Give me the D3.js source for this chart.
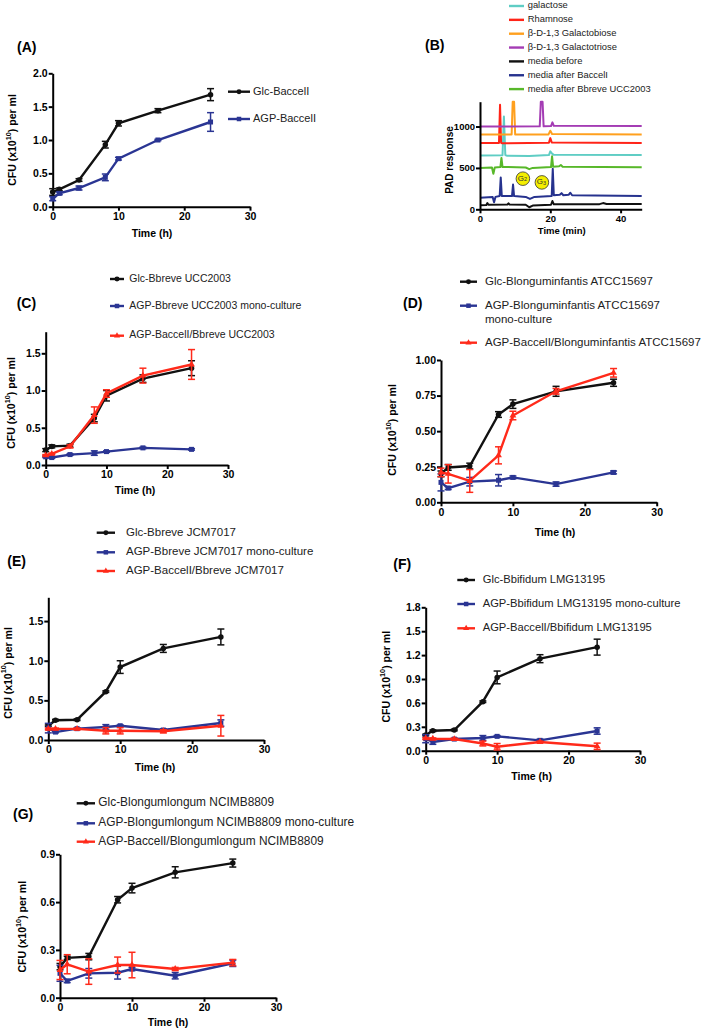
<!DOCTYPE html>
<html><head><meta charset="utf-8">
<script src="https://cdn.jsdelivr.net/npm/d3@7"></script>
<style>body{margin:0;background:#fff}svg{display:block}text{font-family:"Liberation Sans",Arial,sans-serif}</style>
</head><body>
<svg id="c" width="709" height="1032"></svg>
<script>
// ---------- data ----------
const timeH = [0, 1, 4, 8, 10, 16, 24];
const xTicksH = [0, 10, 20, 30];

// (A)
const aGlc = [0.22, 0.26, 0.40, 0.93, 1.25, 1.44, 1.68];
const aGlcErr = [0.05, 0.02, 0.02, 0.05, 0.04, 0.03, 0.09];
const aAgp = [0.12, 0.20, 0.28, 0.44, 0.72, 1.00, 1.27];
const aAgpErr = [0.03, 0.02, 0.03, 0.05, 0.02, 0.01, 0.14];
const aLegend = ["Glc-BaccelI", "AGP-BaccelI"];
const aYTicks = [0, 0.5, 1.0, 1.5, 2.0];

// (C)
const cGlc = [0.20, 0.25, 0.26, 0.63, 0.93, 1.16, 1.30];
const cGlcErr = [0.02, 0.02, 0.02, 0.05, 0.07, 0.05, 0.10];
const cMono = [0.11, 0.10, 0.14, 0.16, 0.18, 0.23, 0.21];
const cMonoErr = [0.01, 0.01, 0.01, 0.03, 0.01, 0.01, 0.01];
const cCo = [0.13, 0.15, 0.25, 0.67, 0.96, 1.20, 1.35];
const cCoErr = [0.01, 0.01, 0.02, 0.11, 0.05, 0.10, 0.20];
const cLegend = ["Glc-Bbreve UCC2003", "AGP-Bbreve UCC2003 mono-culture", "AGP-BaccelI/Bbreve UCC2003"];
const cYTicks = [0, 0.5, 1.0, 1.5];

// (D)
const dGlc = [0.20, 0.245, 0.255, 0.617, 0.69, 0.78, 0.84];
const dGlcErr = [0.02, 0.02, 0.02, 0.02, 0.03, 0.035, 0.025];
const dMono = [0.14, 0.10, 0.145, 0.155, 0.175, 0.128, 0.21];
const dMonoErr = [0.06, 0.01, 0.03, 0.04, 0.01, 0.015, 0.01];
const dCo = [0.21, 0.20, 0.15, 0.33, 0.61, 0.78, 0.91];
const dCoErr = [0.03, 0.065, 0.08, 0.06, 0.03, 0.02, 0.03];
const dLegend = ["Glc-Blonguminfantis ATCC15697", "AGP-Blonguminfantis ATCC15697|mono-culture", "AGP-BaccelI/Blonguminfantis ATCC15697"];
const dYTicks = [0, 0.25, 0.5, 0.75, 1.0];

// (E)
const eGlc = [0.18, 0.25, 0.256, 0.61, 0.92, 1.155, 1.30];
const eGlcErr = [0.01, 0.01, 0.01, 0.01, 0.08, 0.05, 0.10];
const eMono = [0.15, 0.10, 0.143, 0.164, 0.18, 0.126, 0.214];
const eMonoErr = [0.06, 0.01, 0.01, 0.03, 0.01, 0.015, 0.04];
const eCo = [0.14, 0.14, 0.14, 0.117, 0.117, 0.11, 0.18];
const eCoErr = [0.01, 0.01, 0.01, 0.04, 0.04, 0.02, 0.13];
const eLegend = ["Glc-Bbreve JCM7017", "AGP-Bbreve JCM7017 mono-culture", "AGP-BaccelI/Bbreve JCM7017"];
const eYTicks = [0, 0.5, 1.0, 1.5];

// (F)
const fGlc = [0.197, 0.25, 0.26, 0.615, 0.92, 1.155, 1.30];
const fGlcErr = [0.01, 0.01, 0.01, 0.01, 0.08, 0.05, 0.10];
const fMono = [0.15, 0.11, 0.146, 0.16, 0.18, 0.13, 0.247];
const fMonoErr = [0.05, 0.03, 0.01, 0.03, 0.01, 0.015, 0.04];
const fCo = [0.155, 0.15, 0.146, 0.09, 0.05, 0.11, 0.055];
const fCoErr = [0.01, 0.01, 0.01, 0.03, 0.04, 0.01, 0.04];
const fLegend = ["Glc-Bbifidum LMG13195", "AGP-Bbifidum LMG13195 mono-culture", "AGP-BaccelI/Bbifidum LMG13195"];
const fYTicks = [0, 0.3, 0.6, 0.9, 1.2, 1.5, 1.8];

// (G)
const gGlc = [0.195, 0.25, 0.258, 0.615, 0.688, 0.787, 0.845];
const gGlcErr = [0.02, 0.01, 0.02, 0.02, 0.03, 0.035, 0.025];
const gMono = [0.153, 0.105, 0.153, 0.157, 0.18, 0.138, 0.216];
const gMonoErr = [0.05, 0.01, 0.03, 0.04, 0.01, 0.02, 0.02];
const gCo = [0.174, 0.21, 0.164, 0.205, 0.205, 0.18, 0.22];
const gCoErr = [0.06, 0.06, 0.08, 0.05, 0.08, 0.01, 0.02];
const gLegend = ["Glc-Blongumlongum NCIMB8809", "AGP-Blongumlongum NCIMB8809 mono-culture", "AGP-BaccelI/Blongumlongum NCIMB8809"];
const gYTicks = [0, 0.3, 0.6, 0.9];

// (B) chromatograms: [time (min), PAD response]
const bNames = ["galactose", "Rhamnose", "\u03b2-D-1,3 Galactobiose", "\u03b2-D-1,3 Galactotriose", "media before", "media after BaccelI", "media after Bbreve UCC2003"];
const bGalactose = [[0,650],[6.4,652],[6.8,1120],[7.2,655],[7.6,648],[14,645],[19.6,655],[20,700],[20.5,672],[21,658],[46,655]];
const bRhamnose = [[0,800],[5.4,802],[5.7,1262],[6.0,802],[6.3,798],[19.6,805],[20,860],[20.4,808],[46,802]];
const bGalactobiose = [[0,905],[9.0,905],[9.3,1300],[9.7,1300],[10.0,905],[19.5,905],[20,950],[20.5,910],[46,905]];
const bGalactotriose = [[0,1000],[17.0,1002],[17.3,1300],[17.8,1300],[18.1,1002],[20.2,1005],[20.6,1050],[21,1008],[46,1005]];
const bBefore = [[0,50],[1.8,52],[2.1,75],[2.4,55],[7.8,58],[8.1,72],[8.4,58],[13,55],[14,25],[15,45],[20.2,55],[20.6,100],[21,60],[34,62],[35,75],[36,64],[46,65]];
const bBaccel = [[0,140],[3.6,150],[4,85],[4.4,150],[5.6,160],[5.9,385],[6.2,160],[9.1,160],[9.4,300],[9.7,160],[13,150],[14.2,125],[15.5,150],[20.4,160],[20.7,490],[21,170],[22.7,175],[23.2,195],[23.7,170],[25.2,175],[25.7,200],[26.2,170],[46,160]];
const bBbreve = [[0,500],[3.4,505],[3.8,430],[4.2,505],[5.8,510],[6.1,620],[6.4,512],[13,505],[14,485],[15,500],[20.2,510],[20.5,640],[20.8,515],[22.5,520],[23,535],[23.5,515],[46,508]];
const bTraces = [bGalactose, bRhamnose, bGalactobiose, bGalactotriose, bBefore, bBaccel, bBbreve];
const bXTicks = [0, 20, 40];
const bYTicks = [0, 500, 1000];

// ---------- drawing ----------
const svg = d3.select("#c");
const BLACK = "#111111", BLUE = "#2a3593", RED = "#ff2a1a";
const bColors = ["#5fcdc4", "#ff2418", "#ffa01e", "#a43cb4", "#111111", "#26328e", "#58b82a"];

function styleAxis(g, fs) {
  g.selectAll("path,line").attr("stroke", "#000").attr("stroke-width", 2);
  g.selectAll("text").attr("font-size", fs).attr("font-weight", "bold").attr("fill", "#000");
}

function cfuLabel(x, y, fs) {
  const t = svg.append("text").attr("transform", `translate(${x},${y}) rotate(-90)`)
    .attr("text-anchor", "middle").attr("dominant-baseline", "middle")
    .attr("font-size", fs).attr("font-weight", "bold");
  t.append("tspan").text("CFU (x10");
  t.append("tspan").attr("font-size", fs * 0.7).attr("dy", -fs * 0.4).text("10");
  t.append("tspan").attr("dy", fs * 0.4).text(") per ml");
}

function marker(g, type, cx, cy, color, s) {
  if (type === "circle") g.append("circle").attr("cx", cx).attr("cy", cy).attr("r", s * 0.55).attr("fill", color);
  else if (type === "square") g.append("rect").attr("x", cx - s / 2).attr("y", cy - s / 2).attr("width", s).attr("height", s).attr("fill", color);
  else g.append("path").attr("d", d3.symbol(d3.symbolTriangle, s * s * 0.8)()).attr("transform", `translate(${cx},${cy})`).attr("fill", color);
}

function growthPanel(cfg) {
  const x = d3.scaleLinear().domain([0, 30]).range([cfg.left, cfg.right]);
  const y = d3.scaleLinear().domain([0, cfg.yMax]).range([cfg.bottom, cfg.top]);
  const gx = svg.append("g").attr("transform", `translate(0,${cfg.bottom})`)
    .call(d3.axisBottom(x).tickValues(xTicksH).tickSize(4).tickSizeOuter(0).tickPadding(2));
  styleAxis(gx, 10.5);
  const gy = svg.append("g").attr("transform", `translate(${cfg.left},0)`)
    .call(d3.axisLeft(y).tickValues(cfg.yTicks).tickFormat(d3.format(cfg.fmt)).tickSize(4).tickSizeOuter(0).tickPadding(1));
  styleAxis(gy, 10.5);
  const series = cfg.series;
  series.forEach(s => {
    const g = svg.append("g");
    const pts = timeH.map((t, i) => [t, s.v[i], s.e[i]]);
    g.append("path").datum(pts).attr("fill", "none").attr("stroke", s.c).attr("stroke-width", 2.4)
      .attr("d", d3.line().x(d => x(d[0])).y(d => y(d[1])));
    pts.forEach(d => {
      const cx = x(d[0]), y1 = y(d[1] + d[2]), y2 = y(Math.max(0, d[1] - d[2]));
      g.append("line").attr("x1", cx).attr("x2", cx).attr("y1", y1).attr("y2", y2).attr("stroke", s.c).attr("stroke-width", 1.5);
      [y1, y2].forEach(yy => g.append("line").attr("x1", cx - 3.5).attr("x2", cx + 3.5).attr("y1", yy).attr("y2", yy).attr("stroke", s.c).attr("stroke-width", 1.5));
      marker(g, s.m, cx, y(d[1]), s.c, 5);
    });
  });
  // legend
  const L = cfg.legend;
  series.forEach((s, i) => {
    const yy = L.rows[i];
    svg.append("line").attr("x1", L.x1).attr("x2", L.x2).attr("y1", yy).attr("y2", yy).attr("stroke", s.c).attr("stroke-width", 2.4);
    marker(svg, s.m, (L.x1 + L.x2) / 2, yy, s.c, 4.5);
    const parts = cfg.names[i].split("|");
    parts.forEach((p, j) => svg.append("text").attr("x", L.tx).attr("y", yy + j * 14.5).attr("dominant-baseline", "middle")
      .attr("font-size", L.fs).attr("fill", "#222").text(p));
  });
  svg.append("text").attr("x", cfg.pl[0]).attr("y", cfg.pl[1]).attr("dominant-baseline", "middle")
    .attr("font-size", 14).attr("font-weight", "bold").text(cfg.label);
  cfuLabel(cfg.yl[0], cfg.yl[1], 10.5);
  svg.append("text").attr("x", cfg.xl[0]).attr("y", cfg.xl[1]).attr("text-anchor", "middle").attr("dominant-baseline", "middle")
    .attr("font-size", 10.5).attr("font-weight", "bold").text("Time (h)");
}

// Panel A
growthPanel({label: "(A)", pl: [17, 48], left: 52.7, right: 250, bottom: 206.7, top: 73.3, yMax: 2.0, yTicks: aYTicks, fmt: ".1f",
  series: [{v: aGlc, e: aGlcErr, c: BLACK, m: "circle"}, {v: aAgp, e: aAgpErr, c: BLUE, m: "square"}],
  names: aLegend, legend: {x1: 228, x2: 250, tx: 253, rows: [91.7, 119], fs: 11},
  yl: [13, 140], xl: [152, 234]});

// Panel C
growthPanel({label: "(C)", pl: [16.7, 304.3], left: 45.7, right: 228, bottom: 465, top: 331.7, yMax: 1.79, yTicks: cYTicks, fmt: ".1f",
  series: [{v: cGlc, e: cGlcErr, c: BLACK, m: "circle"}, {v: cMono, e: cMonoErr, c: BLUE, m: "square"}, {v: cCo, e: cCoErr, c: RED, m: "tri"}],
  names: cLegend, legend: {x1: 110, x2: 124, tx: 129.3, rows: [279, 306, 335.7], fs: 10.5},
  yl: [11.7, 403], xl: [135, 491.7]});

// Panel D
growthPanel({label: "(D)", pl: [403, 304.3], left: 441, right: 656.7, bottom: 502.3, top: 360, yMax: 1.0, yTicks: dYTicks, fmt: ".2f",
  series: [{v: dGlc, e: dGlcErr, c: BLACK, m: "circle"}, {v: dMono, e: dMonoErr, c: BLUE, m: "square"}, {v: dCo, e: dCoErr, c: RED, m: "tri"}],
  names: dLegend, legend: {x1: 460, x2: 477, tx: 485, rows: [281.7, 305.7, 342.7], fs: 11.5},
  yl: [393, 430], xl: [555, 533.3]});

// Panel E
growthPanel({label: "(E)", pl: [7.3, 562.7], left: 48.3, right: 264, bottom: 740, top: 597.3, yMax: 1.8, yTicks: eYTicks, fmt: ".1f",
  series: [{v: eGlc, e: eGlcErr, c: BLACK, m: "circle"}, {v: eMono, e: eMonoErr, c: BLUE, m: "square"}, {v: eCo, e: eCoErr, c: RED, m: "tri"}],
  names: eLegend, legend: {x1: 96.7, x2: 115, tx: 126, rows: [532.7, 552.3, 571], fs: 11.5},
  yl: [8.5, 673], xl: [155, 768]});

// Panel F
growthPanel({label: "(F)", pl: [393.3, 565], left: 425.7, right: 640, bottom: 750.7, top: 607.3, yMax: 1.8, yTicks: fYTicks, fmt: ".1f",
  series: [{v: fGlc, e: fGlcErr, c: BLACK, m: "circle"}, {v: fMono, e: fMonoErr, c: BLUE, m: "square"}, {v: fCo, e: fCoErr, c: RED, m: "tri"}],
  names: fLegend, legend: {x1: 457.3, x2: 475, tx: 482.7, rows: [580, 604, 628.3], fs: 11.2},
  yl: [386.7, 676.7], xl: [531.7, 777]});

// Panel G
growthPanel({label: "(G)", pl: [13, 815.7], left: 60, right: 276, bottom: 997.7, top: 854.3, yMax: 0.9, yTicks: gYTicks, fmt: ".1f",
  series: [{v: gGlc, e: gGlcErr, c: BLACK, m: "circle"}, {v: gMono, e: gMonoErr, c: BLUE, m: "square"}, {v: gCo, e: gCoErr, c: RED, m: "tri"}],
  names: gLegend, legend: {x1: 76.7, x2: 95, tx: 98.3, rows: [803.3, 823.3, 841.7], fs: 11.9},
  yl: [23, 926.7], xl: [168, 1023.3]});

// Panel B
(function () {
  const x = d3.scaleLinear().domain([0, 46]).range([480, 641.7]);
  const y = d3.scaleLinear().domain([0, 1300]).range([209.3, 101.7]);
  bTraces.forEach((tr, i) => {
    svg.append("path").datum(tr).attr("fill", "none").attr("stroke", bColors[i]).attr("stroke-width", 2)
      .attr("stroke-linejoin", "round").attr("d", d3.line().x(d => x(d[0])).y(d => y(d[1])));
  });
  const gx = svg.append("g").attr("transform", `translate(0,${y(0)})`)
    .call(d3.axisBottom(x).tickValues(bXTicks).tickSize(4).tickSizeOuter(0).tickPadding(2));
  styleAxis(gx, 9.5);
  const gy = svg.append("g").attr("transform", `translate(${x(0)},0)`)
    .call(d3.axisLeft(y).tickValues(bYTicks).tickFormat(d3.format("d")).tickSize(4).tickSizeOuter(0).tickPadding(1));
  styleAxis(gy, 9.5);
  // G2 / G3 badges
  [["G", "2", 12.2, 370], ["G", "3", 17.6, 325]].forEach(b => {
    const cx = x(b[2]), cy = y(b[3]);
    svg.append("circle").attr("cx", cx).attr("cy", cy).attr("r", 6.8).attr("fill", "#f4ee00").attr("stroke", "#333").attr("stroke-width", 0.8);
    const t = svg.append("text").attr("x", cx - 0.5).attr("y", cy).attr("text-anchor", "middle").attr("dominant-baseline", "middle").attr("font-size", 8).attr("fill", "#333");
    t.append("tspan").text(b[0]);
    t.append("tspan").attr("font-size", 5.5).attr("dy", 1.5).text(b[1]);
  });
  // legend
  bNames.forEach((n, i) => {
    const yy = 6 + i * 13.85;
    svg.append("line").attr("x1", 509).attr("x2", 524).attr("y1", yy).attr("y2", yy).attr("stroke", bColors[i]).attr("stroke-width", 2.4);
    svg.append("text").attr("x", 527.7).attr("y", yy).attr("dominant-baseline", "middle").attr("font-size", 9.4).attr("fill", "#222").text(n);
  });
  svg.append("text").attr("x", 425).attr("y", 46.7).attr("dominant-baseline", "middle").attr("font-size", 14).attr("font-weight", "bold").text("(B)");
  svg.append("text").attr("transform", "translate(450,160) rotate(-90)").attr("text-anchor", "middle").attr("dominant-baseline", "middle")
    .attr("font-size", 10).attr("font-weight", "bold").text("PAD response");
  svg.append("text").attr("x", 561.7).attr("y", 231.7).attr("text-anchor", "middle").attr("dominant-baseline", "middle")
    .attr("font-size", 9.5).attr("font-weight", "bold").text("Time (min)");
})();
</script>
</body></html>
